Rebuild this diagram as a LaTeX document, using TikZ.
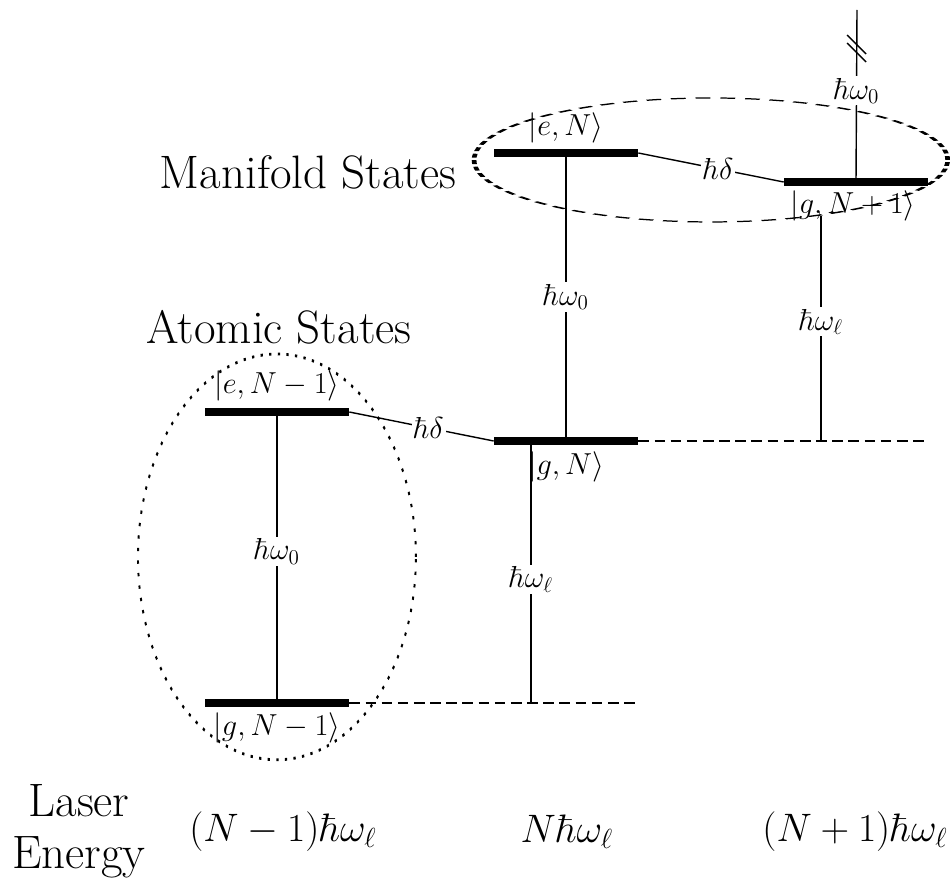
\documentclass[tikz,border=0pt]{standalone}
\usepackage{amsmath}
\usepackage{graphicx}
\begin{document}
\begin{tikzpicture}[x=0.02cm,y=-0.02cm,
  bar/.style={fill=black,draw=none,inner sep=0pt,minimum width=2.88cm,minimum height=0.16cm},
  ket/.style={font=\fontsize{18}{21}\selectfont,inner sep=1pt},
  lab/.style={font=\fontsize{17.5}{21}\selectfont,fill=white,inner sep=1pt},
  big/.style={font=\fontsize{26.7}{29.5}\selectfont,align=center},
  bigm/.style={font=\fontsize{22}{26}\selectfont},
  thin/.style={line width=0.8pt},
  dline/.style={line width=0.8pt,dash pattern=on 6pt off 3.2pt}]
\useasboundingbox (0,0) rectangle (950,882);

% bars
\node[bar] (eA) at (277,412) {};
\node[bar] (gA) at (277,703) {};
\node[bar] (gB) at (566,441) {};
\node[bar] (eB) at (566,153) {};
\node[bar] (gC) at (856,182) {};

% ket labels
\node[ket] (keA) at (277,386) {$|e,N-1\rangle$};
\node[ket] (kgA) at (277,728) {$|g,N-1\rangle$};
\node[ket] (kgB) at (566,467) {$|g,N\rangle$};
\node[ket] (keB) at (566,128) {$|e,N\rangle$};
\node[ket] (kgC) at (853,206) {$|g,N+1\rangle$};

% coordinates
\coordinate (c1) at (531,703);
\coordinate (d1) at (636,703);
\coordinate (c2) at (821,441);
\coordinate (d2) at (925,441);
\coordinate (c2top) at (821,216);
\coordinate (top) at (857,10);
\coordinate (b1a) at (847,35);
\coordinate (b1b) at (866,54);
\coordinate (b2a) at (847,43);
\coordinate (b2b) at (866,62);

% dashed guide lines
\draw[dline] (gA.east) -- (d1);
\draw[dline] (gB.east) -- (d2);

% transitions
\draw[thin] (eA.center) -- node[lab,pos=0.48] {$\hbar\omega_0$} (gA.center);
\draw[thin] (eB.center) -- node[lab] {$\hbar\omega_0$} (gB.center);
\draw[thin] (gB.south -| c1) -- node[lab,pos=0.52] {$\hbar\omega_\ell$} (c1);
\draw[thin] (c2top) -- node[lab,pos=0.47] {$\hbar\omega_\ell$} (c2);
\draw[thin] (top) -- node[lab,pos=0.47] {$\hbar\omega_0$} (gC.center);
\draw[thin] (b1a) -- (b1b);
\draw[thin] (b2a) -- (b2b);
\draw[thin] (eA.east) -- node[lab,pos=0.55] {$\hbar\delta$} (gB.west);
\draw[thin] (eB.east) -- node[lab,pos=0.55] {$\hbar\delta$} (gC.west);

% redraw bars on top
\node[bar] at (277,412) {};
\node[bar] at (277,703) {};
\node[bar] at (566,441) {};
\node[bar] at (566,153) {};
\node[bar] at (856,182) {};

% ellipses
\draw[line width=1.1pt,dash pattern=on 1.3pt off 3.6pt,
  transform canvas={shift={(5.54cm,-11.14cm)},yscale=1.46}] (0,0) circle[radius=2.78cm];
\draw[line width=0.7pt,dash pattern=on 2.2pt off 1.5pt,
  transform canvas={shift={(14.22cm,-3.2cm)},xscale=3.82}] (0,0) circle[radius=1.24cm];

% titles
\node[big] (ms) at (308,172) {Manifold States};
\node[big] (as) at (279,327) {Atomic States};
\node[big] (le) at (79,831) {Laser\\Energy};
\node[bigm] (e1) at (283,832) {\scalebox{1.09}{$(N-1)\hbar\omega_\ell$}};
\node[bigm] (e2) at (567,832) {\scalebox{1.09}{$N\hbar\omega_\ell$}};
\node[bigm] (e3) at (855,832) {\scalebox{1.09}{$(N+1)\hbar\omega_\ell$}};
\end{tikzpicture}
\end{document}
